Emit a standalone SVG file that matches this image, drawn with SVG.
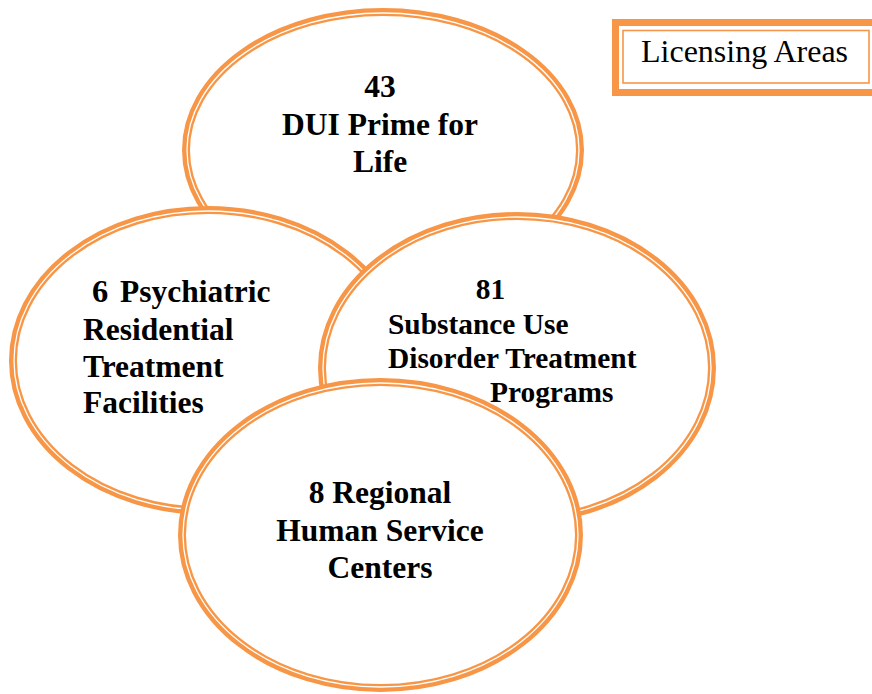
<svg xmlns="http://www.w3.org/2000/svg" width="872" height="694" viewBox="0 0 872 694">
<style>
.ring{fill:#fff;stroke:#F79646;stroke-width:8}
.gap{fill:none;stroke:#fff;stroke-width:1.3}
.lbl{font-weight:bold;font-size:31.5px;fill:#000}
.sm{font-size:29.4px}
.mid{text-anchor:middle}
.legend{font-size:32px;fill:#000}
</style>
<rect width="872" height="694" fill="#fff"/>
<g font-family="'Liberation Serif', 'Times New Roman', serif">
<g id="node-dui">
<ellipse class="ring" cx="383" cy="150" rx="197" ry="138"/>
<ellipse class="gap" cx="383" cy="150" rx="196" ry="137"/>
<text class="lbl mid" x="380" y="97">43</text>
<text class="lbl mid" x="380" y="135">DUI Prime for</text>
<text class="lbl mid" x="380" y="172">Life</text>
</g>
<g id="node-psychiatric">
<ellipse class="ring" cx="208" cy="360.5" rx="195" ry="150.5"/>
<ellipse class="gap" cx="208" cy="360.5" rx="194" ry="149.5"/>
<text class="lbl" x="92" y="302"><tspan font-size="32.5">6 </tspan><tspan x="120">Psychiatric</tspan></text>
<text class="lbl" x="83" y="340">Residential</text>
<text class="lbl" x="83" y="377">Treatment</text>
<text class="lbl" x="83" y="413">Facilities</text>
</g>
<g id="node-substance">
<ellipse class="ring" cx="517" cy="368" rx="195" ry="152"/>
<ellipse class="gap" cx="517" cy="368" rx="194" ry="151"/>
<text class="lbl sm mid" x="490.5" y="299">81</text>
<text class="lbl sm" x="388" y="334">Substance Use</text>
<text class="lbl sm" x="388" y="368">Disorder Treatment</text>
<text class="lbl sm" x="490" y="402">Programs</text>
</g>
<g id="node-regional">
<ellipse class="ring" cx="380.5" cy="535" rx="198.5" ry="153"/>
<ellipse class="gap" cx="380.5" cy="535" rx="197.5" ry="152"/>
<text class="lbl mid" x="380" y="503">8 Regional</text>
<text class="lbl mid" x="380" y="541">Human Service</text>
<text class="lbl mid" x="380" y="578">Centers</text>
</g>
<g id="legend">
<rect x="612" y="19" width="270" height="77" fill="#F79646"/>
<rect x="619" y="26" width="263" height="63" fill="#fff"/>
<rect x="623" y="30.5" width="246" height="52.5" fill="none" stroke="#F79646" stroke-width="1.6"/>
<text class="legend" x="641" y="62">Licensing Areas</text>
</g>
</g>
</svg>
